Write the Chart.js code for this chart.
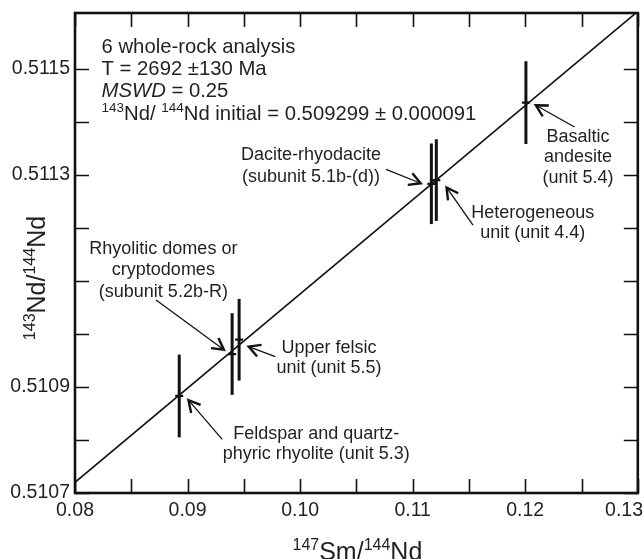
<!DOCTYPE html>
<html><head><meta charset="utf-8">
<script src="https://cdn.jsdelivr.net/npm/chart.js@4/dist/chart.umd.min.js"></script>
<style>html,body{margin:0;padding:0;background:#fff;}#wrap{width:644px;height:559px;position:relative;}</style>
</head><body><div id="wrap"><canvas id="c"></canvas></div>
<script>
// ---- data ----
const samples = ['Feldspar and quartz-phyric rhyolite (unit 5.3)', 'Rhyolitic domes or cryptodomes (subunit 5.2b-R)', 'Upper felsic unit (unit 5.5)', 'Dacite-rhyodacite (subunit 5.1b-(d))', 'Heterogeneous unit (unit 4.4)', 'Basaltic andesite (unit 5.4)'];
const smNd = [0.08926, 0.09396, 0.09458, 0.11166, 0.11210, 0.12006];      // 147Sm/144Nd
const ndNd = [0.510883, 0.510962, 0.510989, 0.511283, 0.511290, 0.511436]; // 143Nd/144Nd
const ndErr = [0.000078, 0.000077, 0.000077, 0.000076, 0.000077, 0.000078];
const isoX = [0.08, 0.13];
const isoY = [0.51072, 0.511608];
const xTickLabels = ['0.08', '0.09', '0.10', '0.11', '0.12', '0.13'];
const yTickLabels = ['0.5107', '0.5109', '0.5113', '0.5115'];

// ---- annotation config ----
const FONT = '"Liberation Sans", Arial, Helvetica, sans-serif';
const INK = '#231f20';
const notes = [
  {lines: ['Dacite-rhyodacite', '(subunit 5.1b-(d))'], at: [0.10097, 0.511337], gap: 22, from: [0.10763, 0.511310], to: [0.11071, 0.511284]},
  {lines: ['Heterogeneous', 'unit (unit 4.4)'], at: [0.12067, 0.511227], gap: 20, from: [0.11536, 0.511205], to: [0.11301, 0.511276]},
  {lines: ['Basaltic', 'andesite', '(unit 5.4)'], at: [0.12468, 0.511372], gap: 20.5, from: [0.12438, 0.511390], to: [0.12094, 0.511431]},
  {lines: ['Rhyolitic domes or', 'cryptodomes', '(subunit 5.2b-R)'], at: [0.08785, 0.511160], gap: 21.3, from: [0.08720, 0.511064], to: [0.09323, 0.510970]},
  {lines: ['Upper felsic', 'unit (unit 5.5)'], at: [0.10257, 0.510973], gap: 20, from: [0.09779, 0.510957], to: [0.09543, 0.510976]},
  {lines: ['Feldspar and quartz-', 'phyric rhyolite (unit 5.3)'], at: [0.10143, 0.510811], gap: 19.7, from: [0.09308, 0.510801], to: [0.09008, 0.510875]}
];
const infoAt = [0.08236, 0.51153];
const infoLines = [
  [{t: '6 whole-rock analysis'}],
  [{t: 'T = 2692 \u00b1130 Ma'}],
  [{t: 'MSWD', it: true}, {t: ' = 0.25'}],
  [{t: '143', sup: true}, {t: 'Nd/ '}, {t: '144', sup: true}, {t: 'Nd initial = 0.509299 \u00b1 0.000091'}]
];

function richWidth(ctx, parts, size, supSize) {
  let w = 0;
  parts.forEach(p => { ctx.font = (p.it ? 'italic ' : '') + (p.sup ? supSize : size) + 'px ' + FONT; w += ctx.measureText(p.t).width; });
  return w;
}
function drawRich(ctx, x, y, parts, size, supSize, rise, align) {
  let w = richWidth(ctx, parts, size, supSize);
  let cx = align === 'center' ? x - w / 2 : x;
  ctx.textAlign = 'left';
  ctx.textBaseline = 'alphabetic';
  parts.forEach(p => {
    ctx.font = (p.it ? 'italic ' : '') + (p.sup ? supSize : size) + 'px ' + FONT;
    ctx.fillText(p.t, cx, p.sup ? y - rise : y);
    cx += ctx.measureText(p.t).width;
  });
}
function onStep(v, base, step) {
  const k = (v - base) / step;
  return Math.abs(k - Math.round(k)) < 1e-4;
}

const decor = {
  id: 'decor',
  afterDatasetsDraw(chart) {
    const {ctx, scales: {x, y}} = chart;
    ctx.save();
    ctx.strokeStyle = '#111';
    ctx.lineWidth = 3;
    ctx.lineCap = 'butt';
    smNd.forEach((sx, i) => {
      const px = x.getPixelForValue(sx);
      ctx.beginPath();
      ctx.moveTo(px, y.getPixelForValue(ndNd[i] - ndErr[i]));
      ctx.lineTo(px, y.getPixelForValue(ndNd[i] + ndErr[i]));
      ctx.stroke();
    });
    ctx.restore();
  },
  afterDraw(chart) {
    const {ctx, chartArea: a, scales: {x, y}} = chart;
    const P = (xv, yv) => [x.getPixelForValue(xv), y.getPixelForValue(yv)];
    ctx.save();
    ctx.strokeStyle = '#111';
    ctx.fillStyle = INK;
    ctx.lineWidth = 1.6;
    x.ticks.forEach(t => {
      if (!onStep(t.value, 0.08, 0.005)) return;
      const px = Math.round(x.getPixelForValue(t.value)) + 0.5;
      ctx.beginPath();
      ctx.moveTo(px, a.bottom); ctx.lineTo(px, a.bottom - 14);
      ctx.moveTo(px, a.top); ctx.lineTo(px, a.top + 14);
      ctx.stroke();
    });
    y.ticks.forEach(t => {
      if (!onStep(t.value, 0.5107, 0.0001)) return;
      const py = Math.round(y.getPixelForValue(t.value)) + 0.5;
      ctx.beginPath();
      ctx.moveTo(a.left, py); ctx.lineTo(a.left + 14, py);
      ctx.moveTo(a.right, py); ctx.lineTo(a.right - 14, py);
      ctx.stroke();
    });
    ctx.lineWidth = 2.6;
    ctx.strokeRect(a.left, a.top, a.right - a.left, a.bottom - a.top);

    // x tick labels (kept inside the canvas, like the reference)
    ctx.font = '19.5px ' + FONT;
    ctx.textAlign = 'left';
    ctx.textBaseline = 'middle';
    xTickLabels.forEach(l => {
      const w = ctx.measureText(l).width;
      let lx = x.getPixelForValue(parseFloat(l)) - w / 2;
      lx = Math.min(lx, chart.width - w - 1);
      lx = Math.max(lx, 1);
      ctx.fillText(l, lx, a.bottom + 18);
    });

    const [ix, iy] = P(infoAt[0], infoAt[1]);
    infoLines.forEach((ln, k) => drawRich(ctx, ix, iy + k * 22.3, ln, 20.3, 13.5, 7.5, 'left'));

    notes.forEach(n => {
      const [tx, ty] = P(n.at[0], n.at[1]);
      ctx.font = '18px ' + FONT;
      ctx.textAlign = 'center';
      ctx.textBaseline = 'middle';
      n.lines.forEach((s, k) => ctx.fillText(s, tx, ty + k * n.gap));
      const [fx, fy] = P(n.from[0], n.from[1]);
      const [ex, ey] = P(n.to[0], n.to[1]);
      ctx.lineWidth = 1.3;
      ctx.beginPath(); ctx.moveTo(fx, fy); ctx.lineTo(ex, ey); ctx.stroke();
      const ang = Math.atan2(fy - ey, fx - ex);
      const L = 13, sp = 0.5;
      ctx.lineWidth = 2.4;
      ctx.lineJoin = 'miter';
      ctx.beginPath();
      ctx.moveTo(ex + L * Math.cos(ang + sp), ey + L * Math.sin(ang + sp));
      ctx.lineTo(ex, ey);
      ctx.lineTo(ex + L * Math.cos(ang - sp), ey + L * Math.sin(ang - sp));
      ctx.stroke();
    });

    const xt = [{t: '147', sup: true}, {t: 'Sm/'}, {t: '144', sup: true}, {t: 'Nd'}];
    drawRich(ctx, (a.left + a.right) / 2 + 1, a.bottom + 67, xt, 25, 16, 10.5, 'center');
    const yt = [{t: '143', sup: true}, {t: 'Nd/'}, {t: '144', sup: true}, {t: 'Nd'}];
    ctx.save();
    ctx.translate(a.left - 30, (a.top + a.bottom) / 2 + 25);
    ctx.rotate(-Math.PI / 2);
    drawRich(ctx, 0, 0, yt, 25, 16, 10.5, 'center');
    ctx.restore();
    ctx.restore();
  }
};

Chart.defaults.font.family = FONT;
Chart.defaults.color = INK;

new Chart(document.getElementById('c'), {
  type: 'scatter',
  data: {
    datasets: [
      {
        type: 'line',
        label: 'Isochron',
        data: isoX.map((v, i) => ({x: v, y: isoY[i]})),
        borderColor: '#111',
        borderWidth: 1.6,
        pointRadius: 0,
        fill: false,
        order: 2
      },
      {
        label: 'Whole-rock samples',
        data: smNd.map((v, i) => ({x: v, y: ndNd[i]})),
        pointStyle: 'line',
        pointRadius: 4,
        borderColor: '#111',
        backgroundColor: '#111',
        pointBorderWidth: 2.2,
        order: 1
      }
    ]
  },
  plugins: [decor],
  options: {
    responsive: true,
    maintainAspectRatio: false,
    animation: false,
    events: [],
    layout: {padding: {top: 13, right: 2, left: 0, bottom: 0}},
    plugins: {legend: {display: false}, tooltip: {enabled: false}, title: {display: false}},
    scales: {
      x: {
        type: 'linear',
        min: 0.08, max: 0.13,
        grid: {display: false, drawTicks: false},
        border: {display: false},
        afterFit(s) { s.height = 66; s.paddingLeft = 0; s.paddingRight = 0; },
        ticks: {
          stepSize: 0.005,
          autoSkip: false, maxRotation: 0, padding: 6,
          font: {size: 19.5, family: FONT}, color: 'rgba(0,0,0,0)',
          callback(v) {
            const m = xTickLabels.find(l => Math.abs(parseFloat(l) - v) < 1e-6);
            return m || '';
          }
        }
      },
      y: {
        type: 'linear',
        min: 0.5107, max: 0.511605,
        grid: {display: false, drawTicks: false},
        border: {display: false},
        afterFit(s) { s.width = 75; s.paddingTop = 0; s.paddingBottom = 0; },
        ticks: {
          stepSize: 0.0001,
          autoSkip: false, padding: 5,
          font: {size: 19.5, family: FONT}, color: INK,
          callback(v) {
            const m = yTickLabels.find(l => Math.abs(parseFloat(l) - v) < 1e-8);
            return m || '';
          }
        }
      }
    }
  }
});
</script>
</body></html>
